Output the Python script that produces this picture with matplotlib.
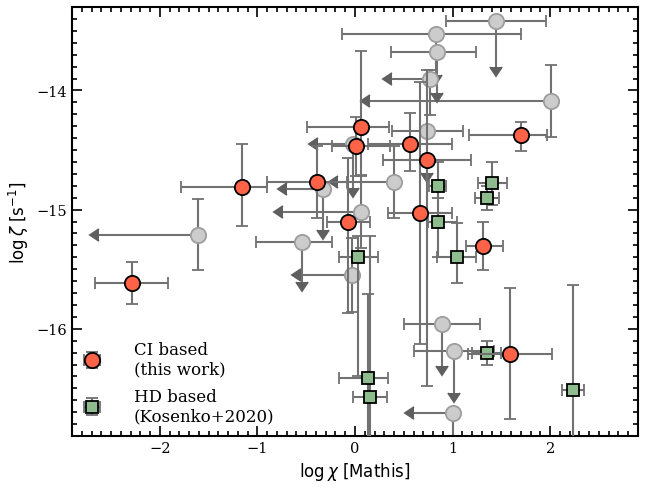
import numpy as np
import matplotlib
matplotlib.use("Agg")
import matplotlib.pyplot as plt
from matplotlib.ticker import MultipleLocator

plt.rcParams['mathtext.fontset'] = 'dejavusans'

# CI based (this work)
ci_x = np.array([-2.29, -1.156, -0.387, 0.058, 0.013, 0.564, 0.742, -0.069, 0.667, 1.31, 1.703, 1.59])
ci_y = np.array([-15.616, -14.81, -14.77, -14.31, -14.47, -14.448, -14.58, -15.10, -15.03, -15.305, -14.375, -16.21])
ci_xlo = np.array([0.37, 0.63, 0.52, 0.55, 0.25, 0.43, 0.45, 0.22, 0.33, 0.17, 0.53, 0.43])
ci_xhi = np.array([0.37, 0.25, 0.30, 0.29, 0.35, 0.43, 0.45, 0.22, 0.33, 0.21, 0.26, 0.43])
ci_ylo = np.array([0.18, 0.33, 0.30, 0.40, 0.25, 0.23, 1.90, 0.77, 1.10, 0.20, 0.135, 0.55])
ci_yhi = np.array([0.18, 0.36, 0.30, 0.64, 0.25, 0.26, 0.75, 0.53, 1.10, 0.20, 0.11, 0.55])

# HD based (Kosenko+2020)
hd_x = np.array([0.848, 1.408, 1.354, 0.848, 1.043, 0.034, 0.137, 0.154, 1.35, 2.233])
hd_y = np.array([-14.80, -14.78, -14.90, -15.10, -15.40, -15.40, -16.41, -16.575, -16.20, -16.513])
hd_xlo = np.array([0.085, 0.15, 0.12, 0.10, 0.20, 0.20, 0.30, 0.17, 0.15, 0.11])
hd_xhi = np.array([0.085, 0.15, 0.12, 0.20, 0.20, 0.20, 0.20, 0.17, 0.15, 0.11])
hd_ylo = np.array([0.10, 0.18, 0.10, 0.30, 0.22, 1.00, 0.70, 1.35, 0.10, 0.88])
hd_yhi = np.array([0.20, 0.18, 0.10, 0.30, 0.29, 0.18, 0.70, 1.35, 0.10, 0.88])

# literature values (gray), some are upper limits
lit_x = np.array([1.446, 0.831, 0.838, 0.769, 2.01, 0.742, -0.02, 0.40, -0.325, 0.058, -1.607, -0.54, -0.034, 0.89, 1.01, 1.00])
lit_y = np.array([-13.42, -13.53, -13.675, -13.905, -14.09, -14.34, -14.45, -14.77, -14.83, -15.02, -15.21, -15.27, -15.55, -15.96, -16.19, -16.71])
lit_xlo = np.array([0.51, 0.96, 0.47, 0.39, 1.86, 0.36, 0.36, 0.57, 0.37, 0.80, 1.02, 0.47, 0.52, 0.39, 0.41, 0.40])
lit_xhi = np.array([0.51, 0.87, 0.40, 0.0, 0.0, 0.36, 0.0, 0.0, 0.0, 0.0, 0.0, 0.30, 0.0, 0.39, 0.41, 0.0])
lit_ylo = np.array([0.38, 0.34, 0.35, 0.30, 0.30, 0.35, 0.37, 0.30, 0.34, 0.30, 0.30, 0.34, 0.31, 0.35, 0.345, 0.50])
lit_yhi = np.array([0.0, 0.0, 0.0, 0.08, 0.30, 0.0, 0.0, 0.30, 0.0, 0.30, 0.30, 0.0, 0.31, 0.0, 0.0, 0.0])
lit_xuplim = np.array([0, 0, 0, 1, 1, 0, 1, 1, 1, 1, 1, 0, 1, 0, 0, 1], dtype=bool)
lit_yuplim = np.array([1, 1, 1, 0, 0, 1, 1, 0, 1, 0, 0, 1, 0, 1, 1, 0], dtype=bool)

fig = plt.figure(figsize=(6.49, 4.89), dpi=100)
ax = fig.add_axes([0.111, 0.1063, 0.872, 0.8773])

ecol = '#717171'
arrow_col = '#5f5f5f'

lit = ax.errorbar(lit_x, lit_y, xerr=[lit_xlo, lit_xhi], yerr=[lit_ylo, lit_yhi],
                  xuplims=lit_xuplim, uplims=lit_yuplim,
                  fmt='o', ms=11, mfc='#cccccc', mec='#9d9d9d', mew=1.3,
                  ecolor=ecol, elinewidth=1.5, capsize=4, capthick=1.3, zorder=2)

# the limit arrows come out in the default colour, paint them gray
for cl in lit[1]:
    if cl.get_marker() not in ('|', '_'):
        cl.set_markerfacecolor(arrow_col)
        cl.set_markeredgecolor(arrow_col)
        cl.set_markersize(9)

hd = ax.errorbar(hd_x, hd_y, xerr=[hd_xlo, hd_xhi], yerr=[hd_ylo, hd_yhi],
                 fmt='s', ms=9, mfc='#8fbc8f', mec='black', mew=1.3,
                 ecolor=ecol, elinewidth=1.5, capsize=4, capthick=1.3, zorder=3)

ci = ax.errorbar(ci_x, ci_y, xerr=[ci_xlo, ci_xhi], yerr=[ci_ylo, ci_yhi],
                 fmt='o', ms=11, mfc='tomato', mec='black', mew=1.3,
                 ecolor=ecol, elinewidth=1.5, capsize=4, capthick=1.3, zorder=4)

ax.set_xlim(-2.9, 2.9)
ax.set_ylim(-16.9, -13.3)

ax.xaxis.set_major_locator(MultipleLocator(1))
ax.xaxis.set_minor_locator(MultipleLocator(0.1))
ax.yaxis.set_major_locator(MultipleLocator(1))
ax.yaxis.set_minor_locator(MultipleLocator(0.1))
ax.tick_params(which='both', direction='in', top=True, right=True, width=1.2)
ax.tick_params(which='major', length=7, labelsize=10.5, labelfontfamily='DejaVu Serif')
ax.tick_params(which='minor', length=3.5)
for s in ax.spines.values():
    s.set_linewidth(1.5)

ax.set_xlabel(r'$\log\chi$ [Mathis]', fontsize=12, family='DejaVu Sans')
ax.set_ylabel(r'$\log\zeta$ [s$^{-1}$]', fontsize=12, family='DejaVu Sans')

ax.legend([ci, hd], ['CI based\n(this work)', 'HD based\n(Kosenko+2020)'],
          loc='lower left', frameon=False, prop={'family': 'DejaVu Serif', 'size': 12},
          borderaxespad=0.3, handlelength=1.0, handletextpad=2.0, labelspacing=0.6)

fig.savefig('out.png', dpi=100)
